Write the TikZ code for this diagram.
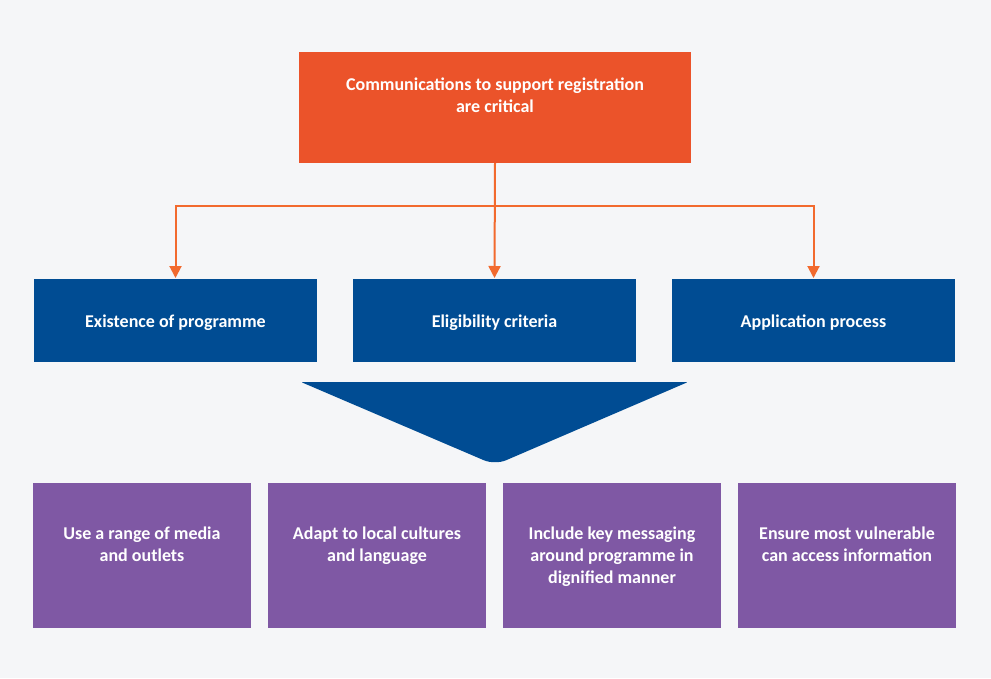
\documentclass[tikz,border=0pt]{standalone}
\usepackage{fontspec}
\setmainfont{Carlito}
\usetikzlibrary{arrows.meta}
\definecolor{bgc}{HTML}{F5F6F8}
\definecolor{topc}{HTML}{EB532A}
\definecolor{arrc}{HTML}{F26A2E}
\definecolor{bluec}{HTML}{004C93}
\definecolor{purc}{HTML}{7F58A4}
\begin{document}
\begin{tikzpicture}[x=1pt,y=-1pt,
  box/.style={rectangle,inner sep=0pt,outer sep=0pt,anchor=north west},
  txt/.style={text=white,font=\bfseries\fontsize{18}{22}\selectfont,align=center,inner sep=0pt,anchor=north},
  conn/.style={draw=arrc,line width=2pt},
  arr/.style={conn,-{Triangle[width=12pt,length=12pt]},shorten >=1pt}]
\fill[bgc] (0,0) rectangle (991,678);
\useasboundingbox (0,0) rectangle (991,678);
% top box
\node[box,fill=topc,minimum width=392pt,minimum height=111pt] (top) at (299,52) {};
\node[txt] (toptxt) at (495,78) {Communications to support registration\\are critical};
% blue boxes
\node[box,fill=bluec,minimum width=283pt,minimum height=83pt] (b1) at (34,279) {};
\node[box,fill=bluec,minimum width=283pt,minimum height=83pt] (b2) at (353,279) {};
\node[box,fill=bluec,minimum width=283pt,minimum height=83pt] (b3) at (672,279) {};
\node[txt,anchor=center] (b1t) at ([yshift=-2pt]b1.center) {Existence of programme};
\node[txt,anchor=center] (b2t) at ([yshift=-2pt]b2.center) {Eligibility criteria};
\node[txt,anchor=center] (b3t) at ([yshift=-2pt]b3.center) {Application process};
% connectors
\coordinate (j) at (495,206);
\draw[arr] (top.south) -- (b2.north);
\draw[arr] (j) -| (b1.north);
\draw[arr] (j) -| (b3.north);
% funnel triangle
\fill[bluec,rounded corners=2pt] (495,382) -- (688,382) [rounded corners=12pt] -- (495,465) [rounded corners=2pt] -- (301,382) -- cycle;
% purple boxes
\node[box,fill=purc,minimum width=218pt,minimum height=145pt] (p1) at (33,483) {};
\node[box,fill=purc,minimum width=218pt,minimum height=145pt] (p2) at (268,483) {};
\node[box,fill=purc,minimum width=218pt,minimum height=145pt] (p3) at (503,483) {};
\node[box,fill=purc,minimum width=218pt,minimum height=145pt] (p4) at (738,483) {};
\node[txt] (p1t) at ([yshift=-44pt]p1.north) {Use a range of media\\and outlets};
\node[txt] (p2t) at ([yshift=-44pt]p2.north) {Adapt to local cultures\\and language};
\node[txt] (p3t) at ([yshift=-44pt]p3.north) {Include key messaging\\around programme in\\dignified manner};
\node[txt] (p4t) at ([yshift=-44pt]p4.north) {Ensure most vulnerable\\can access information};
\end{tikzpicture}
\end{document}
